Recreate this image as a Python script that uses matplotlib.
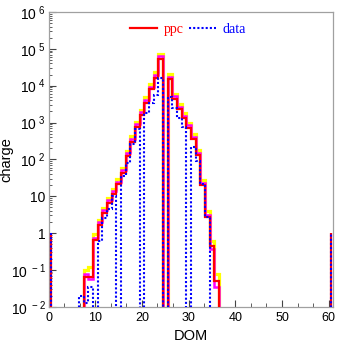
import numpy as np
import matplotlib
matplotlib.use("Agg")
import matplotlib.pyplot as plt
from matplotlib.ticker import FixedLocator, FuncFormatter, MultipleLocator, LogLocator, NullFormatter

# ---- data (DOM -> charge); missing DOMs are zero ----
dom_first, dom_last = 1, 60
ppc = {8: 0.065, 9: 0.065, 10: 0.65, 11: 1.7, 12: 3.5, 13: 6.6, 14: 11.5, 15: 21,
       16: 43, 17: 122, 18: 300, 19: 760, 20: 1600, 21: 3470, 22: 7950, 23: 16600,
       24: 52500, 26: 15000, 27: 4300, 28: 2300, 29: 1300, 30: 730, 31: 350,
       32: 128, 33: 20, 34: 2.8, 35: 0.45, 36: 0.05}
ppc_up = {8: 0.10, 9: 0.12, 10: 0.95, 11: 2.3, 12: 4.8, 13: 9, 14: 16, 15: 29,
          16: 60, 17: 170, 18: 420, 19: 1050, 20: 2250, 21: 4800, 22: 11000,
          23: 23000, 24: 72000, 26: 21000, 27: 6000, 28: 3200, 29: 1800, 30: 1000,
          31: 480, 32: 175, 33: 28, 34: 3.9, 35: 0.62, 36: 0.075}
ppc_mid = {8: 0.075, 9: 0.055, 10: 0.75, 11: 2.0, 12: 4.1, 13: 7.8, 14: 13.5, 15: 25,
           16: 51, 17: 145, 18: 355, 19: 900, 20: 1900, 21: 4100, 22: 9400,
           23: 19500, 24: 62000, 26: 17500, 27: 5100, 28: 2700, 29: 1530, 30: 860,
           31: 410, 32: 150, 33: 23, 34: 3.0, 35: 0.37, 36: 0.035}
data = {7: 0.02, 8: 0.013, 9: 0.035, 11: 0.6, 12: 2.5, 13: 4.5, 14: 10, 16: 35,
        17: 82, 18: 257, 19: 650, 21: 1800, 22: 3300, 23: 5500, 24: 16000,
        26: 4800, 27: 2500, 28: 1300, 29: 750, 31: 210, 32: 90, 33: 21, 34: 2.8}

x_ticks = [0, 10, 20, 30, 40, 50, 60]
y_ticks = [1e-2, 1e-1, 1, 10, 1e2, 1e3, 1e4, 1e5, 1e6]

plt.rcParams["font.family"] = ["Liberation Sans", "DejaVu Sans"]
plt.rcParams["mathtext.default"] = "regular"

doms = np.arange(dom_first, dom_last + 1)
edges = np.arange(dom_first - 0.5, dom_last + 1.0)
floor = 1e-6


def arr(d):
    v = np.array([d.get(int(k), 0.0) for k in doms], dtype=float)
    return np.where(v > 0, v, floor)


fig = plt.figure(figsize=(3.37, 3.44), dpi=100)
ax = fig.add_axes([48.5 / 337, 1 - 306.7 / 344, (333.4 - 48.5) / 337, (306.7 - 12) / 344])
ax.set_yscale("log")

ax.stairs(arr(ppc_up), edges, baseline=None, color="#ffff00", lw=2.3, zorder=2)
ax.stairs(arr(ppc_mid), edges, baseline=None, color="#ff00ff", lw=1.8, zorder=3)
ax.stairs(arr(ppc), edges, baseline=1, color="#ff0000", lw=1.6, zorder=4, label="ppc")
ax.stairs(arr(data), edges, baseline=1, color="#0000ff", lw=1.5,
          linestyle=(0, (1, 1)), zorder=5, label="data")

ax.set_xlim(0, 61)
ax.set_ylim(1e-2, 1e6)

ax.xaxis.set_major_locator(FixedLocator(x_ticks))
ax.xaxis.set_minor_locator(MultipleLocator(10 / 3))
ax.yaxis.set_major_locator(FixedLocator(y_ticks))
ax.yaxis.set_minor_locator(LogLocator(base=10, subs=np.arange(2, 10), numticks=20))
ax.yaxis.set_minor_formatter(NullFormatter())


def yfmt(v, pos):
    e = int(round(np.log10(v)))
    if e == 0:
        return "1"
    if e == 1:
        return "10"
    return r"$10^{\ %d}$" % e


ax.yaxis.set_major_formatter(FuncFormatter(yfmt))
ax.tick_params(axis="both", which="both", direction="in", top=False, right=False,
               color="#444444")
ax.tick_params(axis="x", which="major", length=5, labelsize=9, pad=4)
ax.tick_params(axis="x", which="minor", length=3)
ax.tick_params(axis="y", which="major", length=5, labelsize=10, pad=2)
ax.tick_params(axis="y", which="minor", length=2.5)
for s in ax.spines.values():
    s.set_color("#a0a0a0")
    s.set_linewidth(0.9)

ax.set_xlabel("DOM", fontsize=10.5)
ax.xaxis.set_label_coords(0.5, -0.075)
ax.set_ylabel("charge", fontsize=10.5)
ax.yaxis.set_label_coords(-0.125, 0.5)

ax.legend(loc="upper center", bbox_to_anchor=(0.49, 1.0), ncol=2, frameon=False,
          labelcolor="linecolor", prop={"family": "Liberation Serif", "size": 10},
          handlelength=1.9, handletextpad=0.5, columnspacing=0.4, borderpad=0.3)

fig.savefig("out.png", dpi=100)
